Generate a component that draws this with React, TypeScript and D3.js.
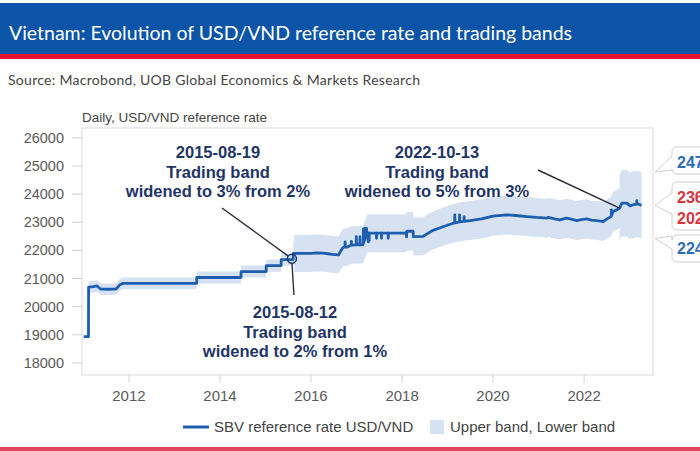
import React from "react";
import * as d3 from "d3";

// ---------- DATA ----------
// SBV reference rate USD/VND (date, value)
const rateSeries: [string, number][] = [
  ["2011-01-03", 18932],
  ["2011-02-10", 18932],
  ["2011-02-11", 20693],
  ["2011-03-20", 20710],
  ["2011-04-20", 20735],
  ["2011-05-20", 20620],
  ["2011-08-01", 20618],
  ["2011-09-20", 20628],
  ["2011-10-20", 20780],
  ["2011-11-15", 20828],
  ["2013-06-27", 20828],
  ["2013-06-28", 21036],
  ["2014-06-18", 21036],
  ["2014-06-19", 21246],
  ["2015-01-06", 21246],
  ["2015-01-07", 21458],
  ["2015-05-06", 21458],
  ["2015-05-07", 21673],
  ["2015-08-11", 21673],
  ["2015-08-12", 21890],
  ["2015-12-31", 21890],
  ["2016-01-04", 21896],
  ["2016-02-15", 21910],
  ["2016-04-08", 21900],
  ["2016-05-15", 21880],
  ["2016-06-20", 21860],
  ["2016-08-10", 21838],
  ["2016-08-28", 21990],
  ["2016-09-16", 22110],
  ["2016-10-20", 22120],
  ["2016-11-20", 22190],
  ["2017-02-20", 22200],
  ["2017-03-28", 22610],
  ["2018-01-31", 22610],
  ["2018-02-10", 22680],
  ["2018-03-30", 22680],
  ["2018-04-02", 22490],
  ["2018-06-20", 22500],
  ["2018-09-01", 22700],
  ["2018-12-01", 22850],
  ["2019-02-15", 22964],
  ["2019-04-20", 23020],
  ["2019-07-01", 23060],
  ["2019-10-01", 23120],
  ["2020-01-01", 23220],
  ["2020-04-20", 23262],
  ["2020-07-01", 23240],
  ["2020-09-27", 23203],
  ["2020-12-15", 23170],
  ["2021-03-07", 23145],
  ["2021-03-20", 23175],
  ["2021-05-10", 23120],
  ["2021-06-20", 23085],
  ["2021-08-14", 23145],
  ["2021-09-20", 23110],
  ["2021-11-03", 23060],
  ["2021-12-10", 23095],
  ["2022-01-22", 23120],
  ["2022-03-01", 23075],
  ["2022-04-12", 23060],
  ["2022-05-15", 23040],
  ["2022-06-03", 23024],
  ["2022-07-01", 23110],
  ["2022-08-05", 23200],
  ["2022-08-22", 23380],
  ["2022-09-20", 23440],
  ["2022-10-13", 23500],
  ["2022-10-31", 23680],
  ["2022-12-10", 23680],
  ["2023-01-05", 23580],
  ["2023-01-29", 23620],
  ["2023-02-20", 23640],
  ["2023-03-10", 23650],
  ["2023-04-07", 23600],
];

// single-day outliers in the reference rate (line only)
const rateSpikes: [string, number][] = [
  ["2016-10-01", 22300],
  ["2016-11-20", 22320],
  ["2016-12-30", 22490],
  ["2017-01-28", 22490],
  ["2017-02-25", 22760],
  ["2017-03-06", 22780],
  ["2017-03-14", 22700],
  ["2017-03-22", 22780],
  ["2017-04-05", 22300],
  ["2017-04-12", 22350],
  ["2017-06-10", 22430],
  ["2017-07-20", 22430],
  ["2017-09-12", 22430],
  ["2018-02-06", 22480],
  ["2019-02-28", 23262],
  ["2019-04-08", 23262],
  ["2019-05-14", 23200],
  ["2022-08-08", 23440],
  ["2023-02-28", 23770],
];

// trading band regimes: start date, band width (+/-)
const bandRegimes: [string, number][] = [
  ["2011-02-11", 0.01],
  ["2015-08-12", 0.02],
  ["2015-08-19", 0.03],
  ["2022-10-13", 0.05],
];

const yTicks = [18000, 19000, 20000, 21000, 22000, 23000, 24000, 25000, 26000];
const xTickYears = [2012, 2014, 2016, 2018, 2020, 2022];

const annotationDates = ["2015-08-19", "2022-10-13", "2015-08-12"];
const annotationTexts = [
  ["2015-08-19", "Trading band", "widened to 3% from 2%"],
  ["2022-10-13", "Trading band", "widened to 5% from 3%"],
  ["2015-08-12", "Trading band", "widened to 2% from 1%"],
];

const titleText = "Vietnam: Evolution of USD/VND reference rate and trading bands";
const sourceText = "Source: Macrobond, UOB Global Economics & Markets Research";
const unitText = "Daily, USD/VND reference rate";
const legendLabels = ["SBV reference rate USD/VND", "Upper band, Lower band"];

// ---------- HELPERS ----------
const parse = d3.utcParse("%Y-%m-%d");
const DAY = 86400000;

type P = { date: Date; value: number };
const base: P[] = rateSeries.map(([d, v]) => ({ date: parse(d)!, value: v }));
const regimes = bandRegimes.map(([d, p]) => ({ date: parse(d)!, pct: p }));
const bis = d3.bisector((d: P) => d.date).left;

function baseAt(date: Date): number {
  const i = bis(base, date);
  if (i <= 0) return base[0].value;
  if (i >= base.length) return base[base.length - 1].value;
  const a = base[i - 1], b = base[i];
  if (+b.date === +date) return b.value;
  const t = (+date - +a.date) / (+b.date - +a.date);
  return a.value + (b.value - a.value) * t;
}
function pctAt(date: Date): number {
  let p = regimes[0].pct;
  for (const r of regimes) if (+date >= +r.date) p = r.pct;
  return p;
}

// line points incl. spikes
const linePts: P[] = [...base];
for (const [d, v] of rateSpikes) {
  const dt = parse(d)!;
  const a = new Date(+dt - DAY), b = new Date(+dt + DAY);
  linePts.push({ date: a, value: baseAt(a) }, { date: dt, value: v }, { date: b, value: baseAt(b) });
}
linePts.sort((a, b) => +a.date - +b.date);

// band points
type B = { date: Date; lo: number; hi: number };
const bandStart = +regimes[0].date;
const dateSet = Array.from(
  new Set([...base.map((d) => +d.date), ...regimes.map((r) => +r.date)].filter((t) => t >= bandStart))
).sort((a, b) => a - b);
const bandPts: B[] = [];
let prevPct: number | null = null;
for (const t of dateSet) {
  const dt = new Date(t);
  const v = baseAt(dt);
  const p = pctAt(dt);
  if (prevPct !== null && p !== prevPct) bandPts.push({ date: dt, lo: v * (1 - prevPct), hi: v * (1 + prevPct) });
  bandPts.push({ date: dt, lo: v * (1 - p), hi: v * (1 + p) });
  prevPct = p;
}

// ---------- COMPONENT ----------
export default function App() {
  const W = 700, H = 451;
  const L = 82, R = 653, T = 128, Bt = 375;
  const x = d3.scaleUtc().domain([parse("2010-12-20")!, parse("2023-07-08")!]).range([L, R]);
  const y = d3.scaleLinear().domain([17570, 26350]).range([Bt, T]);

  const lineGen = d3.line<P>().x((d) => x(d.date)).y((d) => y(d.value));
  const areaGen = d3.area<B>().x((d) => x(d.date)).y0((d) => y(d.lo)).y1((d) => y(d.hi));

  const blue = "#1d5fae";
  const band = "#d6e2f2";
  const navy = "#1f3566";
  const gray = "#5a5a5a";

  const last = base[base.length - 1];
  const lastPct = pctAt(last.date);
  const upper = last.value * (1 + lastPct);
  const lower = last.value * (1 - lastPct);
  const fmt = d3.format(".0f");
  const fmtDate = d3.utcFormat("%Y-%m-%d");

  // annotation anchors
  const circ = { cx: x(parse("2015-08-01")!), cy: y(21700) };
  const a2 = { x: x(parse(annotationDates[1])!), y: y(baseAt(parse(annotationDates[1])!)) };
  const r = 4.5;
  const a1Start = { x: 222, y: 208 };
  const dx = circ.cx - a1Start.x, dy = circ.cy - a1Start.y, dl = Math.hypot(dx, dy);

  const annFont = 16.5;
  const annX = [218, 437, 295];
  const annY = [158, 158, 318];

  const callout = (top: number, bottom: number, tipY: number, pA: number, pB: number) => {
    const bx = 672, tipX = 655, rr = 5, rx = 760;
    const d = `M${bx + rr},${top} L${rx},${top} L${rx},${bottom} L${bx + rr},${bottom} Q${bx},${bottom} ${bx},${bottom - rr} L${bx},${pB} L${tipX},${tipY} L${bx},${pA} L${bx},${top + rr} Q${bx},${top} ${bx + rr},${top} Z`;
    return <path d={d} fill="#fff" stroke="#cfcfcf" strokeWidth={1} />;
  };

  return (
    <svg
      width={W}
      height={H}
      style={{ position: "absolute", left: 0, top: 0, background: "#fff" }}
      fontFamily="'Liberation Sans', Arial, sans-serif"
    >
      <rect width={W} height={H} fill="#fff" />
      {/* header */}
      <rect x={0} y={3} width={W} height={51} fill="#0b54a8" />
      <rect x={0} y={54} width={W} height={5} fill="#e4132f" />
      <text
        x={9}
        y={40}
        fill="#fff"
        fontSize={19.5}
        fontFamily="Lato, 'Open Sans', sans-serif"
        textLength={563}
        lengthAdjust="spacing"
      >
        {titleText}
      </text>
      <text
        x={8}
        y={85}
        fill="#444"
        fontSize={14}
        fontFamily="Lato, 'Open Sans', sans-serif"
        textLength={412}
        lengthAdjust="spacing"
      >
        {sourceText}
      </text>

      {/* unit label */}
      <text x={82} y={122} fill="#444" fontSize={13.5}>
        {unitText}
      </text>

      {/* plot frame */}
      <rect x={L} y={T} width={R - L} height={Bt - T} fill="#fff" stroke="#d9d9d9" strokeWidth={1} />

      {/* y axis */}
      {yTicks.map((t) => (
        <g key={t}>
          <line x1={72} x2={L} y1={y(t)} y2={y(t)} stroke="#d0d0d0" />
          <text x={64} y={y(t) + 5} textAnchor="end" fontSize={14.5} fill={gray}>
            {t}
          </text>
        </g>
      ))}
      {/* x axis */}
      {xTickYears.map((yr) => {
        const xx = x(new Date(Date.UTC(yr, 0, 1)));
        return (
          <g key={yr}>
            <line x1={xx} x2={xx} y1={Bt} y2={Bt + 8} stroke="#d0d0d0" />
            <text x={xx} y={400.5} textAnchor="middle" fontSize={15} fill={gray}>
              {yr}
            </text>
          </g>
        );
      })}

      {/* band + line */}
      <path d={areaGen(bandPts) || ""} fill={band} />
      <path d={lineGen(linePts) || ""} fill="none" stroke={blue} strokeWidth={2.8} strokeLinejoin="round" />

      {/* annotations */}
      <line
        x1={a1Start.x}
        y1={a1Start.y}
        x2={circ.cx - (dx / dl) * r}
        y2={circ.cy - (dy / dl) * r}
        stroke="#2a2a3a"
        strokeWidth={1.4}
      />
      <line x1={circ.cx} y1={circ.cy + r} x2={circ.cx + 2} y2={295} stroke="#2a2a3a" strokeWidth={1.4} />
      <circle cx={circ.cx} cy={circ.cy} r={r} fill="none" stroke={navy} strokeWidth={1.5} />
      <line x1={538} y1={170} x2={a2.x} y2={a2.y} stroke="#2a2a3a" strokeWidth={1.4} />

      {annotationTexts.map((lines, i) => (
        <text key={i} x={annX[i]} y={annY[i]} textAnchor="middle" fontSize={annFont} fontWeight="bold" fill={navy}>
          {lines.map((ln, j) => (
            <tspan key={j} x={annX[i]} dy={j === 0 ? 0 : 19.5}>
              {ln}
            </tspan>
          ))}
        </text>
      ))}

      {/* right-side value callouts */}
      {callout(147, 174, y(upper), 156, 170)}
      {callout(182, 230, y(last.value), 193, 214)}
      {callout(235, 262, y(lower), 236, 249)}
      <text x={677} y={168} fontSize={16} fontWeight="bold" fill="#2d6db5">
        {fmt(upper)}
      </text>
      <text x={677} y={203} fontSize={16} fontWeight="bold" fill="#d8343f">
        {fmt(last.value)}
      </text>
      <text x={677} y={224} fontSize={16} fontWeight="bold" fill="#d8343f">
        {fmtDate(last.date)}
      </text>
      <text x={677} y={254} fontSize={16} fontWeight="bold" fill="#2d6db5">
        {fmt(lower)}
      </text>

      {/* legend */}
      <line x1={183} x2={209} y1={427} y2={427} stroke={blue} strokeWidth={3} />
      <text x={214} y={432} fontSize={15} fill="#444">
        {legendLabels[0]}
      </text>
      <rect x={430} y={420} width={14} height={14} fill={band} />
      <text x={450} y={432} fontSize={15} fill="#444">
        {legendLabels[1]}
      </text>

      {/* footer stripe */}
      <rect x={0} y={447} width={W} height={4} fill="#e0465c" />
    </svg>
  );
}
